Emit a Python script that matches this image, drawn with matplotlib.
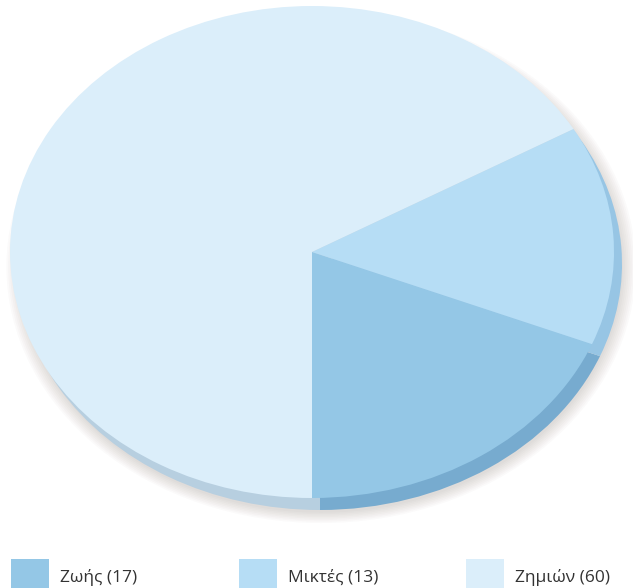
import matplotlib.pyplot as plt
from matplotlib.patches import Ellipse, Rectangle

# data
labels = ["Ζωής", "Μικτές", "Ζημιών"]
values = [17, 13, 60]
top_colors = ["#94c7e6", "#b6ddf5", "#dbeefa"]
side_colors = ["#77abcf", "#97c5e4", "#b7cfe0"]

W, H = 633, 588
fig = plt.figure(figsize=(W / 100, H / 100), dpi=100)

# pie axes: unit circle -> ellipse on the page
cx, cy, rx, ry = 312, 252, 302, 246
ax = fig.add_axes([(cx - rx) / W, (H - cy - ry) / H, 2 * rx / W, 2 * ry / H])
ax.set_xlim(-1, 1)
ax.set_ylim(-1, 1)
ax.set_aspect("auto")
ax.axis("off")

# soft shadow
for i in range(8):
    ax.add_patch(Ellipse((0.03, -0.06), 2.0 + 0.012 * i, 2.0 + 0.012 * i,
                         facecolor="#5a4a40", alpha=0.025, lw=0, zorder=0,
                         clip_on=False))

# side (thickness)
dx, dy = 8 / rx, -12 / ry
w_side, _ = ax.pie(values, colors=side_colors, startangle=-90, counterclock=True,
                   center=(dx, dy), radius=1, frame=False,
                   wedgeprops=dict(linewidth=0))
for w in w_side:
    w.set_zorder(1)
    w.set_clip_on(False)

# top face
w_top, _ = ax.pie(values, colors=top_colors, startangle=-90, counterclock=True,
                  center=(0, 0), radius=1, frame=False,
                  wedgeprops=dict(linewidth=0))
for w in w_top:
    w.set_zorder(2)
    w.set_clip_on(False)
ax.set_xlim(-1, 1)
ax.set_ylim(-1, 1)
ax.set_aspect("auto")

# legend
lax = fig.add_axes([0, 0, 1, 1])
lax.set_xlim(0, W)
lax.set_ylim(H, 0)
lax.axis("off")
leg_x = [11, 239, 466]
for x0, lab, v, c in zip(leg_x, labels, values, top_colors):
    lax.add_patch(Rectangle((x0, 559), 38, 38, facecolor=c, lw=0))
    lax.text(x0 + 49, 577.5, f"{lab} ({v})", fontsize=12.5, color="#333333",
             va="center", ha="left",
             family=["Liberation Sans Narrow", "Open Sans", "DejaVu Sans"])

fig.savefig("out.png", dpi=100)
